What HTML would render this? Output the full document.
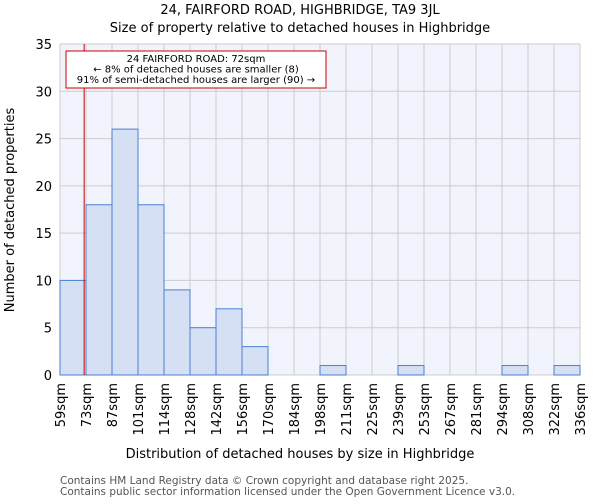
<!DOCTYPE html>
<html><head><meta charset="utf-8"><style>
body{margin:0;background:#fff;font-family:"DejaVu Sans","Liberation Sans",sans-serif}
svg text{font-family:"DejaVu Sans","Liberation Sans",sans-serif}
</style></head><body>
<svg id="c" width="600" height="500" xmlns="http://www.w3.org/2000/svg">
<text x="300" y="14" text-anchor="middle" font-size="13">24, FAIRFORD ROAD, HIGHBRIDGE, TA9 3JL</text>
<text x="300" y="32" text-anchor="middle" font-size="13">Size of property relative to detached houses in Highbridge</text>
<rect x="60" y="44" width="520" height="331" fill="#f1f4fc"/>
<g id="grid"></g><g id="bars"></g><g id="axes"></g>
<text x="300" y="458" text-anchor="middle" font-size="13">Distribution of detached houses by size in Highbridge</text>
<text transform="translate(14,210) rotate(-90)" text-anchor="middle" font-size="13">Number of detached properties</text>
<text x="60" y="484" font-size="10.5" fill="#555">Contains HM Land Registry data © Crown copyright and database right 2025.</text>
<text x="60" y="495" font-size="10.5" fill="#555">Contains public sector information licensed under the Open Government Licence v3.0.</text>
</svg>
<script>
const binLabels=["59sqm","73sqm","87sqm","101sqm","114sqm","128sqm","142sqm","156sqm","170sqm","184sqm","198sqm","211sqm","225sqm","239sqm","253sqm","267sqm","281sqm","294sqm","308sqm","322sqm","336sqm"];
const binEdges=[59,73,87,101,114,128,142,156,170,184,198,211,225,239,253,267,281,294,308,322,336];
const counts=[10,18,26,18,9,5,7,3,0,0,1,0,0,1,0,0,0,1,0,1];
const yTicks=[0,5,10,15,20,25,30,35];
const propertySize=72;
const X0=60,X1=580,Y0=375,Y1=44,YMAX=35;
const n=binLabels.length-1, bw=(X1-X0)/n;
const xi=i=>X0+i*bw;
const y=v=>Y0-(v/YMAX)*(Y0-Y1);
function xv(v){for(let i=0;i<n;i++){if(v<=binEdges[i+1])return xi(i)+(v-binEdges[i])/(binEdges[i+1]-binEdges[i])*bw;}return X1;}
const NS="http://www.w3.org/2000/svg";
function mk(t,a,p){const e=document.createElementNS(NS,t);for(const k in a)e.setAttribute(k,a[k]);p.appendChild(e);return e;}
const g=document.getElementById('grid'),b=document.getElementById('bars'),ax=document.getElementById('axes');
yTicks.forEach(t=>{
 const l=mk('line',{x1:X0,x2:X1,y1:y(t),y2:y(t),stroke:'#ccc','stroke-width':1},g);
 
 
 const tx=mk('text',{x:X0-8,y:y(t)+5,'text-anchor':'end','font-size':13},ax);tx.textContent=t;
 
 
});
binLabels.forEach((lab,i)=>{
 const l=mk('line',{x1:xi(i),x2:xi(i),y1:Y1,y2:Y0,stroke:'#ccc','stroke-width':1},g);
 
 
 const tx=mk('text',{transform:`translate(${xi(i)+5},${Y0+8}) rotate(-90)`,'text-anchor':'end','font-size':13},ax);tx.textContent=lab;
 
 
});
counts.forEach((c,i)=>{
 if(c<=0)return;
 const r=mk('rect',{x:xi(i),y:y(c),width:bw,height:Y0-y(c),fill:'#d6e0f4',stroke:'#4a7fd4','stroke-width':1},b);
 
 
});
const rl=mk('line',{x1:xv(propertySize),x2:xv(propertySize),y1:Y1,y2:Y0,stroke:'#cc0000','stroke-width':1},ax);


const box=mk('rect',{x:66,y:51,width:260,height:37,fill:'#fff',stroke:'#cc0000','stroke-width':1},ax);


["24 FAIRFORD ROAD: 72sqm","← 8% of detached houses are smaller (8)","91% of semi-detached houses are larger (90) →"].forEach((s,i)=>{
 const t=mk('text',{x:196,y:62+i*10.5,'text-anchor':'middle','font-size':10},ax);t.textContent=s;
 
 
});
</script>
</body></html>
